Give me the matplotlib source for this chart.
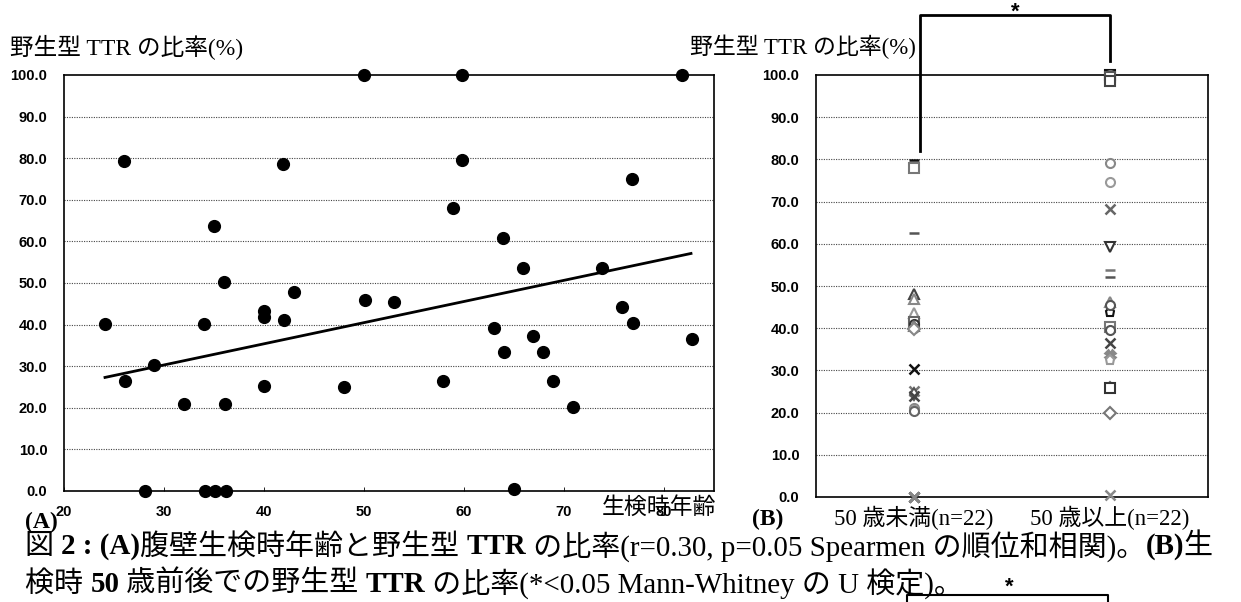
import matplotlib
matplotlib.use("Agg")
import matplotlib.pyplot as plt
from matplotlib.lines import Line2D

# --- data ---
ages = [24.1, 26.1, 29.0, 28.1, 34.0, 32.0, 36.0, 36.1, 34.1, 35.1, 36.2,
        40.0, 40.0, 40.0, 42.0, 43.0, 48.0, 50.1, 53.0, 26.0, 35.0, 41.9,
        50.0, 59.8, 59.8, 76.8, 81.8, 58.9, 63.9, 65.9, 73.8, 75.8, 76.9,
        82.8, 63.0, 66.9, 64.0, 67.9, 57.9, 68.9, 70.9, 65.0]
wt_ratio = [40.2, 26.5, 30.2, 0.0, 40.2, 21.0, 50.2, 21.0, 0.0, 0.0, 0.0,
            43.3, 41.9, 25.3, 41.0, 47.9, 25.1, 45.9, 45.5, 79.4, 63.7, 78.6,
            100.0, 100.0, 79.6, 75.1, 100.0, 68.0, 60.8, 53.6, 53.7, 44.3, 40.4,
            36.5, 39.2, 37.3, 33.3, 33.3, 26.4, 26.5, 20.3, 0.4]
trend_x = [24.1, 82.7]
trend_y = [27.3, 57.1]

groups = ["50 歳未満(n=22)", "50 歳以上(n=22)"]
under50 = [79.8, 78.0, 62.5, 48.0, 47.0, 43.5, 41.5, 41.0, 40.5, 40.0, 39.8,
           30.3, 25.2, 24.5, 24.0, 21.0, 20.6, 20.3, 0.0, 0.0, 0.0, 0.0]
over50 = [100.0, 100.0, 99.5, 98.5, 79.1, 74.7, 68.2, 59.3, 53.8, 52.1, 46.3,
          43.9, 40.4, 39.5, 36.4, 33.6, 32.4, 26.1, 25.8, 19.8, 45.5, 0.5]

ylabel = "野生型 TTR の比率(%)"
xlabel = "生検時年齢"

jp = ["Liberation Serif", "Noto Sans CJK JP"]
num_font = "Liberation Sans"

fig = plt.figure(figsize=(12.41, 6.02), dpi=100)
W, H = 1241, 602


def style_axes(ax):
    ax.set_ylim(0, 100)
    ax.set_yticks(range(0, 101, 10))
    ax.set_yticklabels(["%.1f" % v for v in range(0, 101, 10)],
                       fontfamily=num_font, fontweight="bold", fontsize=10.5)
    ax.tick_params(axis="y", length=0, pad=12)
    for y in range(10, 100, 10):
        ax.axhline(y, color="#444444", lw=0.8, ls=(0, (1, 1.2)), zorder=1)
    for s in ax.spines.values():
        s.set_color("black")
        s.set_linewidth(1.2)


# (A) scatter
axA = fig.add_axes([64 / W, 1 - 491 / H, 650 / W, 416 / H])
style_axes(axA)
axA.set_xlim(20, 85)
axA.set_xticks(range(20, 81, 10))
axA.set_xticklabels([str(v) for v in range(20, 81, 10)],
                    fontfamily=num_font, fontweight="bold", fontsize=10.5)
axA.tick_params(axis="x", direction="in", length=3, width=0.6, pad=10)
axA.scatter(ages, wt_ratio, s=72, color="black", zorder=3, clip_on=False)
axA.plot(trend_x, trend_y, color="black", lw=2.0, zorder=2)
axA.text(0.915, -0.04, xlabel, transform=axA.transAxes, fontsize=16.5,
         family=jp, ha="center", va="center")

# (B) group dots
axB = fig.add_axes([816 / W, 1 - 497 / H, 392 / W, 422 / H])
style_axes(axB)
axB.set_xlim(-0.5, 1.5)
axB.set_xticks([0, 1])
axB.set_xticklabels(groups, family=jp, fontsize=16.5)
axB.tick_params(axis="x", length=0, pad=6)

mk_a = ["_", "s", "_", "^", "^", "^", "s", "o", "^", "o", "D", "x", "x", "d", "x",
        "o", "o", "o", "x", "x", "x", "x"]
mk_b = ["s", "o", "s", "s", "o", "o", "x", "v", "_", "_", "^", "p", "s", "o", "x",
        "X", "p", "p", "s", "D", "o", "x"]
col = ["#111111", "#777777", "#555555", "#444444", "#888888", "#999999", "#666666",
       "#333333", "#777777", "#555555", "#888888"]
for xi, vals, mks in [(0, under50, mk_a), (1, over50, mk_b)]:
    for i, (v, m) in enumerate(zip(vals, mks)):
        c = col[i % len(col)]
        filled = m in ("x", "X", "_", "+")
        axB.plot(xi, v, marker=m, ms=6.5, mew=1.8 if filled else 1.5,
                 mec=c, mfc=c if filled else "white", ls="none",
                 zorder=3, clip_on=False)

# significance bracket
br_x = [0.03, 1.0]
axB.plot([br_x[0], br_x[0], br_x[1], br_x[1]], [82, 114.2, 114.2, 103.3],
         color="black", lw=2.0, clip_on=False, zorder=4)
axB.text(sum(br_x) / 2, 114.8, "*", fontsize=16, fontweight="bold",
         ha="center", va="center", fontfamily=num_font)

# axis titles
fig.text(10 / W, 1 - 48 / H, ylabel, family=jp, fontsize=17, ha="left", va="center")
fig.text(690 / W, 1 - 47 / H, ylabel, family=jp, fontsize=16.5, ha="left", va="center")
fig.text(25 / W, 1 - 522 / H, "(A)", family=jp, fontsize=17, fontweight="bold",
         ha="left", va="center")
fig.text(752 / W, 1 - 519 / H, "(B)", family=jp, fontsize=17, fontweight="bold",
         ha="left", va="center")

# caption
renderer = fig.canvas.get_renderer()


def draw_runs(x, y, runs, size):
    for s, bold in runs:
        t = fig.text(x, y, s, fontsize=size, family=jp, ha="left", va="center",
                     fontweight="bold" if bold else "normal")
        x += t.get_window_extent(renderer).width / W


line1 = [("図 ", False), ("2 : (A)", True), ("腹壁生検時年齢と野生型 ", False),
         ("TTR", True), (" の比率(r=0.30, p=0.05 Spearmen の順位和相関)。", False),
         ("(B)", True), ("生", False)]
line2 = [("検時 ", False), ("50", True), (" 歳前後での野生型 ", False), ("TTR", True),
         (" の比率(*<0.05 Mann-Whitney の U 検定)。", False)]
draw_runs(25 / W, 1 - 547 / H, line1, 20.9)
draw_runs(25 / W, 1 - 584 / H, line2, 20.9)

# cut-off bracket of the next panel
fig.add_artist(Line2D([907 / W, 907 / W, 1108 / W, 1108 / W],
                      [0, 1 - 595 / H, 1 - 595 / H, 0], color="black", lw=1.5))
fig.text(1009 / W, 1 - 587 / H, "*", fontsize=16, fontweight="bold",
         ha="center", va="center", fontfamily=num_font)

fig.savefig("out.png", dpi=100)
